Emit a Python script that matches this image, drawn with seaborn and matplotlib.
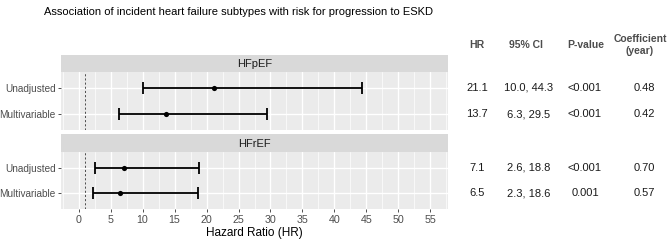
import numpy as np
import pandas as pd
import seaborn as sns
import matplotlib.pyplot as plt
from matplotlib.ticker import MultipleLocator

subtypes = ["HFpEF", "HFpEF", "HFrEF", "HFrEF"]
models = ["Unadjusted", "Multivariable", "Unadjusted", "Multivariable"]
hr = [21.1, 13.7, 7.1, 6.5]
ci_low = [10.0, 6.3, 2.6, 2.3]
ci_high = [44.3, 29.5, 18.8, 18.6]
ci_text = ["10.0, 44.3", "6.3, 29.5", "2.6, 18.8", "2.3, 18.6"]
p_values = ["<0.001", "<0.001", "<0.001", "0.001"]
coefficients = ["0.48", "0.42", "0.70", "0.57"]
x_ticks = [0, 5, 10, 15, 20, 25, 30, 35, 40, 45, 50, 55]
headers = ["HR", "95% CI", "P-value", "Coefficient\n(year)"]

df = pd.DataFrame({"subtype": subtypes, "model": models, "hr": hr,
                   "lo": ci_low, "hi": ci_high, "ci": ci_text,
                   "p": p_values, "coef": coefficients})
model_pos = {"Unadjusted": 1, "Multivariable": 2}
df["pos"] = df["model"].map(model_pos)

sns.set_theme(style="darkgrid")
plt.rcParams["font.family"] = ["Liberation Sans", "DejaVu Sans"]

W, H = 669, 242
fig = plt.figure(figsize=(W / 100, H / 100), dpi=100)
fig.patch.set_facecolor("white")


def add_ax(x0, y0, x1, y1):
    return fig.add_axes([x0 / W, 1 - y1 / H, (x1 - x0) / W, (y1 - y0) / H])


panels = [("HFpEF", 55, 72, 130), ("HFrEF", 134, 152, 209)]
px0, px1 = 61, 448
xmin, xmax = -2.75, 57.75

for i, (name, s0, p0, p1) in enumerate(panels):
    sax = add_ax(px0, s0, px1, p0)
    sax.set_facecolor("#D9D9D9")
    sax.set_xticks([]); sax.set_yticks([])
    for sp in sax.spines.values():
        sp.set_visible(False)
    sax.text(0.5, 0.45, name, ha="center", va="center", fontsize=8,
             color="#1A1A1A", transform=sax.transAxes)

    ax = add_ax(px0, p0, px1, p1)
    ax.set_facecolor("#EBEBEB")
    for sp in ax.spines.values():
        sp.set_visible(False)
    sub = df[df["subtype"] == name]
    ax.set_xlim(xmin, xmax)
    ax.set_ylim(2.6, 0.4)
    ax.xaxis.set_major_locator(MultipleLocator(5))
    ax.xaxis.set_minor_locator(MultipleLocator(2.5))
    ax.set_yticks([1, 2])
    ax.set_yticklabels(["Unadjusted", "Multivariable"])
    ax.grid(which="major", color="white", lw=1.0)
    ax.grid(which="minor", axis="x", color="white", lw=0.5)
    ax.tick_params(axis="y", which="major", left=True, length=2.5, width=0.6,
                   color="#333333", labelcolor="#4D4D4D", labelsize=7.2, pad=1.5)
    ax.tick_params(axis="x", which="minor", bottom=False)
    if i == 1:
        ax.tick_params(axis="x", which="major", bottom=True, length=2.5, width=0.6,
                       color="#333333", labelcolor="#4D4D4D", labelsize=7.7, pad=1.5)
        ax.set_xticks(x_ticks)
    else:
        ax.tick_params(axis="x", which="major", bottom=False, labelbottom=False)
    ax.axvline(1, color="#333333", lw=0.6, ls=(0, (2.5, 2.5)), zorder=2)
    ax.errorbar(sub["hr"], sub["pos"],
                xerr=[sub["hr"] - sub["lo"], sub["hi"] - sub["hr"]],
                fmt="none", ecolor="black", elinewidth=1.3, capsize=4,
                capthick=1.3, zorder=3)
    sns.scatterplot(data=sub, x="hr", y="pos", ax=ax, color="black", s=14,
                    edgecolor="black", linewidth=0, zorder=4, legend=False)
    ax.set_xlabel("Hazard Ratio (HR)" if i == 1 else "", fontsize=8.5,
                  color="black", labelpad=2)
    ax.set_ylabel("")

    # table rows
    tax = add_ax(455, p0, 669, p1)
    tax.set_axis_off()
    tax.set_xlim(455, 669)
    tax.set_ylim(2.6, 0.4)
    for _, r in sub.iterrows():
        for xc, txt in zip([477, 529, 585, 644], [f"{r['hr']:.1f}", r["ci"], r["p"], r["coef"]]):
            tax.text(xc, r["pos"], txt, ha="center", va="center", fontsize=8,
                     color="#1A1A1A")

# headers
for xc, txt in zip([477, 526, 586, 640], headers):
    fig.text(xc / W, 1 - 45 / H, txt, ha="center", va="center", fontsize=7.5,
             fontweight="bold", color="#4D4D4D", linespacing=1.2)

fig.text(238 / W, 1 - 12 / H,
         "Association of incident heart failure subtypes with risk for progression to ESKD",
         ha="center", va="center", fontsize=8, color="black")

fig.savefig("out.png", dpi=100)
